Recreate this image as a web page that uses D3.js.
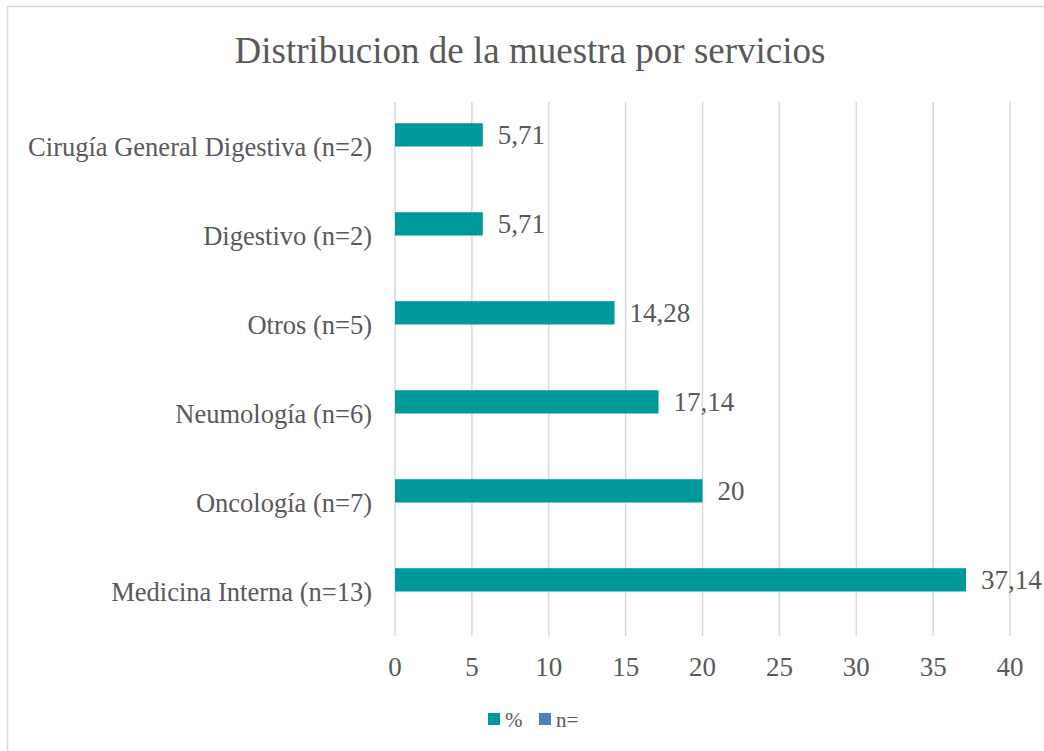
<!DOCTYPE html>
<html>
<head>
<meta charset="utf-8">
<script src="https://cdn.jsdelivr.net/npm/d3@7"></script>
<style>
  body { margin: 0; background: #fff; }
  text { font-family: "Liberation Serif", "Times New Roman", serif; fill: #595959; }
</style>
</head>
<body>
<div id="chart-area"></div>
<script>
const categories = ['Cirugía General Digestiva (n=2)', 'Digestivo (n=2)', 'Otros (n=5)', 'Neumología (n=6)', 'Oncología (n=7)', 'Medicina Interna (n=13)'];
const pctValues = [5.71, 5.71, 14.28, 17.14, 20, 37.14];
const pctLabels = ['5,71', '5,71', '14,28', '17,14', '20', '37,14'];
const xTicks = [0, 5, 10, 15, 20, 25, 30, 35, 40];
const seriesNames = ['%', 'n='];
const seriesColors = ['#009999', '#4f81bd'];

const W = 1044, H = 751;
let svg = d3.select('#chart-area').append('svg').attr('width', W).attr('height', H);

// chart border
svg.append('rect')
    .attr('x', 7.5).attr('y', 6.5)
    .attr('width', W + 20).attr('height', H + 20)
    .attr('fill', 'none').attr('stroke', '#d9d9d9').attr('stroke-width', 1.5);

const plotLeft = 395, plotRight = 1010, plotTop = 102, plotBottom = 636;

let x = d3.scaleLinear().domain([0, 40]).range([plotLeft, plotRight]);
let y = d3.scaleBand().domain(categories).range([plotTop, plotBottom]);
// two series per band, gap width ~182%
const barH = y.bandwidth() / (2 + 1.82);

// gridlines
svg.selectAll('line.grid').data(xTicks).enter().append('line')
    .attr('class', 'grid')
    .attr('x1', (d) => x(d)).attr('x2', (d) => x(d))
    .attr('y1', plotTop).attr('y2', plotBottom)
    .attr('stroke', '#d9d9d9').attr('stroke-width', 1.5);

// tick labels
svg.selectAll('text.tick').data(xTicks).enter().append('text')
    .attr('class', 'tick')
    .attr('x', (d) => x(d)).attr('y', 676)
    .attr('text-anchor', 'middle')
    .style('font-size', '27px')
    .text((d) => d);

// category labels, centred on the band
svg.selectAll('text.cat').data(categories).enter().append('text')
    .attr('class', 'cat')
    .attr('x', 372)
    .attr('y', (d) => y(d) + y.bandwidth() / 2 + 9.5)
    .attr('text-anchor', 'end')
    .style('font-size', '26.5px')
    .text((d) => d);

// bars (% series, upper half of each group)
svg.selectAll('rect.bar').data(pctValues).enter().append('rect')
    .attr('class', 'bar')
    .attr('x', x(0))
    .attr('y', (d, i) => y(categories[i]) + y.bandwidth() / 2 - barH)
    .attr('width', (d) => x(d) - x(0))
    .attr('height', barH)
    .attr('fill', seriesColors[0]);

// value labels
svg.selectAll('text.val').data(pctValues).enter().append('text')
    .attr('class', 'val')
    .attr('x', (d) => x(d) + 15)
    .attr('y', (d, i) => y(categories[i]) + y.bandwidth() / 2 - barH / 2 + 9.5)
    .style('font-size', '27px')
    .text((d, i) => pctLabels[i]);

// title
svg.append('text')
    .attr('x', 530).attr('y', 63)
    .attr('text-anchor', 'middle')
    .style('font-size', '37px')
    .text('Distribucion de la muestra por servicios');

// legend
const legendX = [488, 539];
seriesNames.forEach((name, i) => {
    svg.append('rect')
        .attr('x', legendX[i]).attr('y', 713)
        .attr('width', 12).attr('height', 12)
        .attr('fill', seriesColors[i]);
    svg.append('text')
        .attr('x', legendX[i] + 17).attr('y', 727)
        .style('font-size', '21px')
        .text(name);
});
</script>
</body>
</html>
